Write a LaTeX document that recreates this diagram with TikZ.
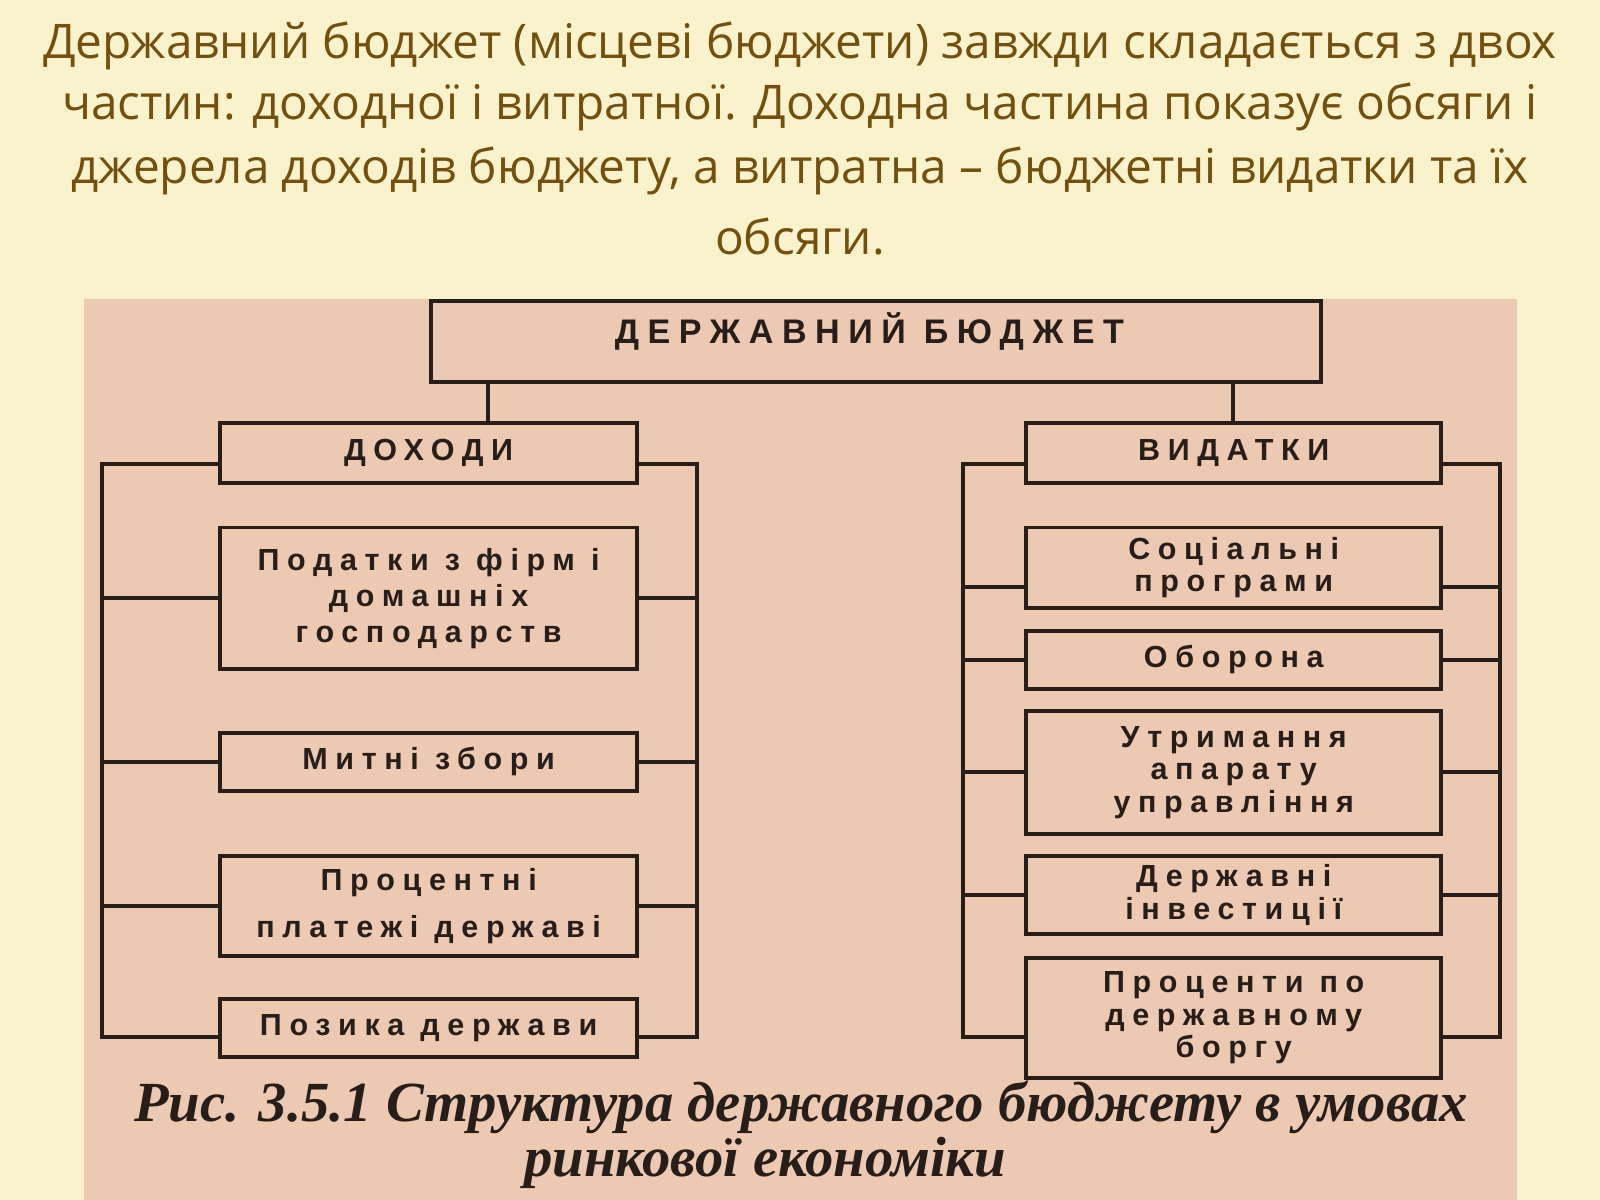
\documentclass[tikz,border=0pt]{standalone}
\usepackage{fontspec}
\setmainfont{Liberation Serif}
\newfontfamily\titlef{Open Sans}
\newfontfamily\boxf[LetterSpace=25]{Liberation Sans}
\definecolor{bgy}{RGB}{250,242,205}
\definecolor{panel}{RGB}{236,201,178}
\definecolor{tbrown}{RGB}{115,80,15}
\definecolor{ln}{RGB}{40,30,25}
\begin{document}
\begin{tikzpicture}[x=0.01cm,y=-0.01cm,
  bx/.style={draw=ln,line width=1.1pt,font=\boxf\bfseries\fontsize{8.5}{10}\selectfont,text=ln,align=center,inner sep=0pt,anchor=north west},
  cn/.style={draw=ln,line width=1.1pt},
  tl/.style={font=\titlef\fontsize{13.3}{15}\selectfont,text=tbrown},
  captext/.style={font=\bfseries\itshape\fontsize{15.8}{18}\selectfont,text=ln}]
\useasboundingbox (0,0) rectangle (1568,1176);
\fill[bgy] (0,0) rectangle (1568,1176);
\fill[panel] (82,293) rectangle (1487,1176);
\node[tl] (t1) at (784,45) {Державний бюджет (місцеві бюджети) завжди складається з двох};
\node[tl] (t2) at (784,105) {частин: доходної і витратної. Доходна частина показує обсяги і};
\node[tl] (t3) at (784,168) {джерела доходів бюджету, а витратна – бюджетні видатки та їх};
\node[tl] (t4) at (784,232) {обсяги.};
% boxes
\node[bx,minimum width=8.72cm,minimum height=0.79cm] (db) at (420,293) {};
\node[font=\boxf\bfseries\fontsize{9.5}{10}\selectfont,text=ln] (dbt) at (852,325) {ДЕРЖАВНИЙ БЮДЖЕТ};
\node[bx,minimum width=4.08cm,minimum height=0.58cm] (dox) at (214,413) {ДОХОДИ};
\node[bx,minimum width=4.06cm,minimum height=0.58cm] (vyd) at (1004,413) {ВИДАТКИ};
\node[bx,minimum width=4.08cm,minimum height=1.39cm] (l1) at (214,515) {Податки з фірм і\\[0pt]домашніх\\[0pt]господарств};
\node[bx,minimum width=4.08cm,minimum height=0.57cm] (l2) at (214,716) {Митні збори};
\node[bx,minimum width=4.08cm,minimum height=0.98cm] (l3) at (214,837) {Процентні\\[3pt]платежі державі};
\node[bx,minimum width=4.08cm,minimum height=0.57cm] (l4) at (214,977) {Позика держави};
\node[bx,minimum width=4.06cm,minimum height=0.79cm] (r1) at (1004,515) {Соціальні\\[-1pt]програми};
\node[bx,minimum width=4.06cm,minimum height=0.57cm] (r2) at (1004,616) {Оборона};
\node[bx,minimum width=4.06cm,minimum height=1.20cm] (r3) at (1004,695) {Утримання\\[-1pt]апарату\\[-1pt]управління};
\node[bx,minimum width=4.06cm,minimum height=0.76cm] (r4) at (1004,837) {Державні\\[-1pt]інвестиції};
\node[bx,minimum width=4.06cm,minimum height=1.17cm] (r5) at (1004,937) {Проценти по\\[-1pt]державному\\[-1pt]боргу};
% connectors
\coordinate (a1) at (478,372); \coordinate (a2) at (1208,372);
\draw[cn] (a1) -- (478,413);
\draw[cn] (a2) -- (1208,413);
\draw[cn] (214,455) -- (100,455) -- (100,1016) -- (214,1016);
\draw[cn] (622,455) -- (683,455) -- (683,1016) -- (622,1016);
\foreach \n in {l1,l2,l3}{\draw[cn] (\n.west) -- (100,0 |- \n.west); \draw[cn] (\n.east) -- (683,0 |- \n.east);}
\draw[cn] (1004,455) -- (944,455) -- (944,1016) -- (1004,1016);
\draw[cn] (1410,455) -- (1470,455) -- (1470,1016) -- (1410,1016);
\draw[cn] (1004,575) -- (944,575);
\draw[cn] (1410,575) -- (1470,575);
\foreach \n in {r2,r3,r4}{\draw[cn] (\n.west) -- (944,0 |- \n.west); \draw[cn] (\n.east) -- (1470,0 |- \n.east);}
\node[captext] (c1) at (785,1085) {Рис. 3.5.1 Структура державного бюджету в умовах};
\node[captext] (c2) at (750,1140) {ринкової економіки};
\end{tikzpicture}
\end{document}
